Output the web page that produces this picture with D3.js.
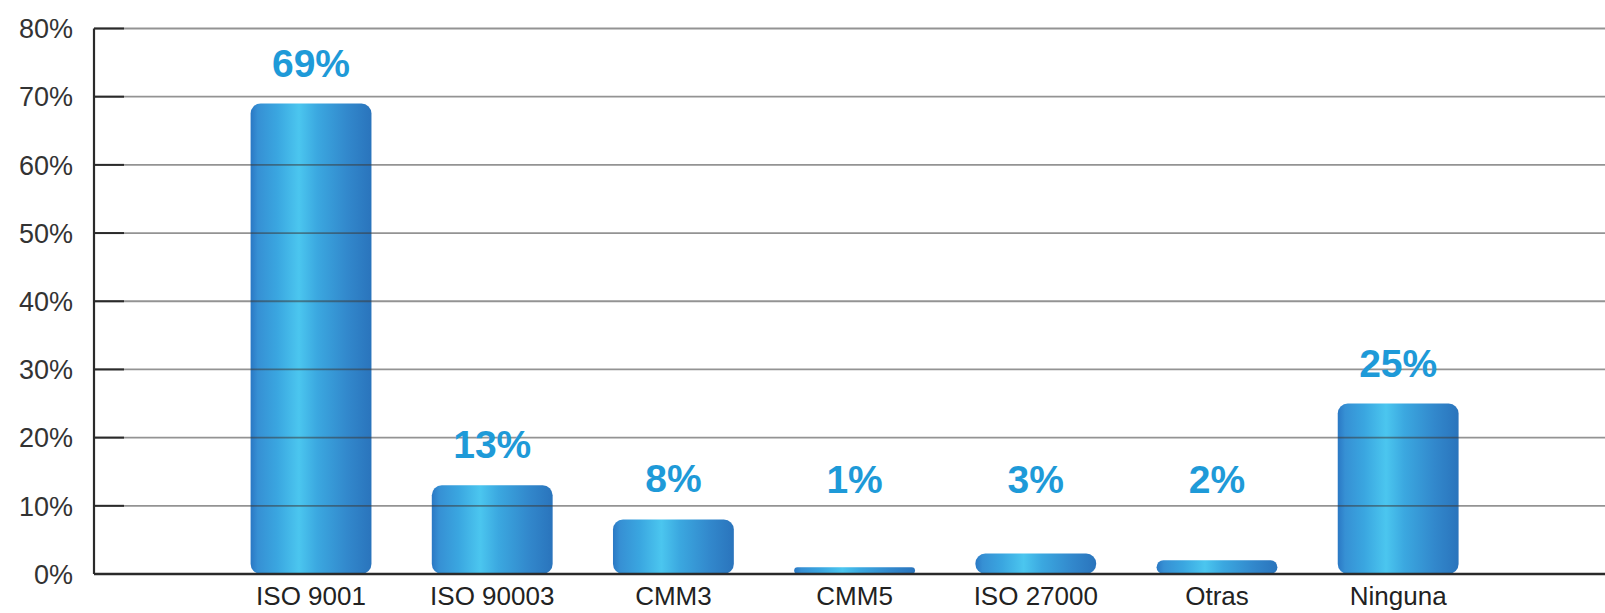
<!DOCTYPE html>
<html>
<head>
<meta charset="utf-8">
<script src="https://cdn.jsdelivr.net/npm/d3@7"></script>
<style>
  body { margin: 0; background: #fff; }
  svg { display: block; font-family: "Liberation Sans", Arial, sans-serif; }
</style>
</head>
<body>
<script>
// Data
const categories = ["ISO 9001", "ISO 90003", "CMM3", "CMM5", "ISO 27000", "Otras", "Ninguna"];
const values = [69, 13, 8, 1, 3, 2, 25];
const yTicks = [0, 10, 20, 30, 40, 50, 60, 70, 80];

const width = 1605, height = 613;
const axisX = 94;

const svg = d3.select("body").append("svg")
    .attr("width", width)
    .attr("height", height);

// Scales
const x = d3.scaleBand()
    .domain(categories)
    .range([220.4, 1488.8])
    .paddingInner(0.333)
    .paddingOuter(0.1667);

const y = d3.scaleLinear()
    .domain([0, 80])
    .range([574, 28.5]);

// Bar gradient
const defs = svg.append("defs");
const grad = defs.append("linearGradient")
    .attr("id", "barGrad")
    .attr("x1", "0%").attr("x2", "100%")
    .attr("y1", "0%").attr("y2", "0%");
[
    ["0%", "#2a78c4"],
    ["6%", "#3690d4"],
    ["22%", "#3aa6e0"],
    ["40%", "#4bc6ef"],
    ["55%", "#3ba8e0"],
    ["80%", "#3288cc"],
    ["100%", "#2a74bc"]
].forEach(s => grad.append("stop").attr("offset", s[0]).attr("stop-color", s[1]));

// Bars
svg.append("g")
    .selectAll("rect")
    .data(values)
    .join("rect")
    .attr("x", (d, i) => x(categories[i]))
    .attr("y", d => y(d))
    .attr("width", x.bandwidth())
    .attr("height", d => y(0) - y(d))
    .attr("rx", d => Math.min(10, (y(0) - y(d)) / 2))
    .attr("fill", "url(#barGrad)");

// Grid lines (drawn over the bars)
svg.append("g")
    .selectAll("line")
    .data(yTicks.filter(t => t > 0))
    .join("line")
    .attr("x1", axisX)
    .attr("x2", width)
    .attr("y1", d => y(d))
    .attr("y2", d => y(d))
    .attr("stroke", "#3a3a3a")
    .attr("stroke-opacity", 0.55)
    .attr("stroke-width", 1.8);

// Axis: short tick marks and labels
const yAxis = svg.append("g");
yAxis.selectAll("line")
    .data(yTicks)
    .join("line")
    .attr("x1", axisX)
    .attr("x2", 124)
    .attr("y1", d => y(d))
    .attr("y2", d => y(d))
    .attr("stroke", "#2a2a2a")
    .attr("stroke-width", 2);

yAxis.selectAll("text")
    .data(yTicks)
    .join("text")
    .attr("x", 73)
    .attr("y", d => y(d))
    .attr("dy", "0.36em")
    .attr("text-anchor", "end")
    .attr("font-size", 27)
    .attr("fill", "#333")
    .text(d => d + "%");

// Vertical axis and baseline
svg.append("line")
    .attr("x1", axisX).attr("x2", axisX)
    .attr("y1", y(80)).attr("y2", y(0))
    .attr("stroke", "#2a2a2a").attr("stroke-width", 2.2);
svg.append("line")
    .attr("x1", axisX).attr("x2", width)
    .attr("y1", y(0)).attr("y2", y(0))
    .attr("stroke", "#2a2a2a").attr("stroke-width", 2.4);

// Category labels
svg.append("g")
    .selectAll("text")
    .data(categories)
    .join("text")
    .attr("x", d => x(d) + x.bandwidth() / 2)
    .attr("y", 605)
    .attr("text-anchor", "middle")
    .attr("font-size", 26)
    .attr("fill", "#222")
    .text(d => d);

// Value labels
svg.append("g")
    .selectAll("text")
    .data(values)
    .join("text")
    .attr("x", (d, i) => x(categories[i]) + x.bandwidth() / 2)
    .attr("y", d => Math.min(y(d) - 27, 493))
    .attr("text-anchor", "middle")
    .attr("font-size", 39)
    .attr("font-weight", "bold")
    .attr("fill", "#1e9ad8")
    .text(d => d + "%");
</script>
</body>
</html>
